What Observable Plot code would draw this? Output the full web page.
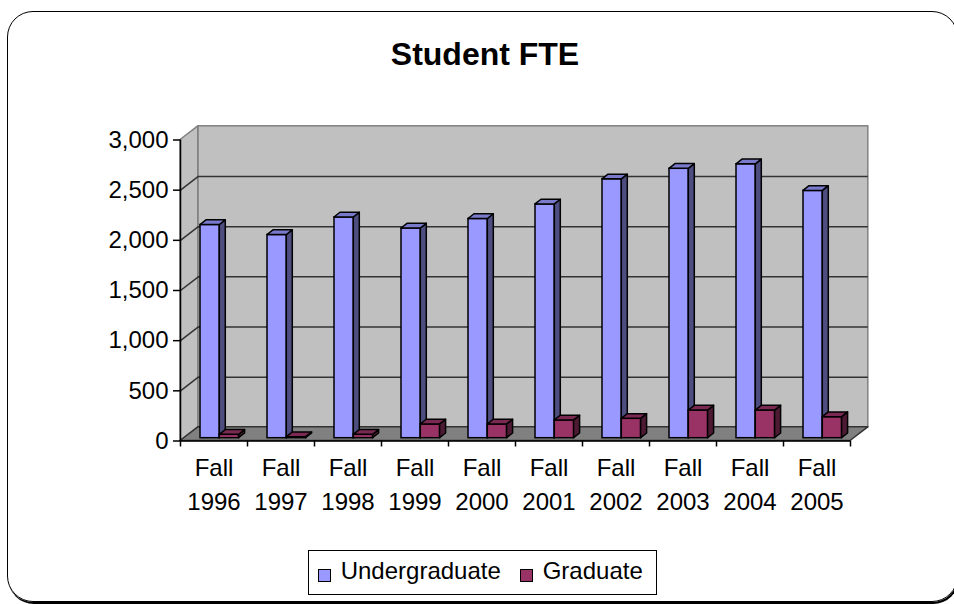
<!DOCTYPE html>
<html>
<head>
<meta charset="utf-8">
<script src="https://cdn.jsdelivr.net/npm/d3@7"></script>
<script src="https://cdn.jsdelivr.net/npm/@observablehq/plot@0.6"></script>
<style>
  html, body { margin: 0; padding: 0; background: #fff; }
  #wrap { position: relative; width: 954px; height: 604px; overflow: hidden; font-family: "Liberation Sans", Arial, sans-serif; }
  #chart { position: absolute; left: 0; top: 0; }
  #title { position: absolute; left: 0; top: 38px; width: 970px; text-align: center; font-weight: bold; font-size: 32px; line-height: 32px; color: #000; }
  #legend { position: absolute; left: 308px; top: 550px; width: 349px; height: 45px; box-sizing: border-box; border: 1px solid #000; font-size: 24px; line-height: 24px; }
  #legend .sw { position: absolute; width: 12.5px; height: 12.5px; box-sizing: border-box; border: 1.5px solid #000; top: 18.3px; }
  #legend .lb { position: absolute; top: 8px; white-space: nowrap; }
  #frame { position: absolute; left: 7px; top: 11px; width: 951px; height: 591px; box-sizing: border-box; border: 1.5px solid #000; border-radius: 26px; box-shadow: 1px 2px 0 #000; pointer-events: none; }
</style>
</head>
<body>
<div id="wrap">
  <div id="chart"></div>
  <div id="title">Student FTE</div>
  <div id="legend"></div>
  <div id="frame"></div>
</div>
<script>
// ---- data ----
const categories = ["Fall 1996", "Fall 1997", "Fall 1998", "Fall 1999", "Fall 2000",
                    "Fall 2001", "Fall 2002", "Fall 2003", "Fall 2004", "Fall 2005"];
const undergraduate = [2125, 2025, 2200, 2090, 2185, 2330, 2580, 2685, 2730, 2465];
const graduate = [34, 10, 34, 137, 137, 177, 193, 276, 276, 210];
const seriesNames = ["Undergraduate", "Graduate"];
const yTicks = [0, 500, 1000, 1500, 2000, 2500, 3000];

// ---- layout / style ----
const W = 954, H = 604;
const mL = 180, mR = 104, mT = 139.5, mB = 163.5;
const n = categories.length;
const yMax = 3000;
const kx = (W - mL - mR) / n;          // px per category
const ky = (H - mT - mB) / yMax;       // px per unit
const px = p => p / kx, py = p => p / ky;

const WX = px(17.8), WY = py(13.7);    // wall depth
const barW = 19.3;                      // px
const barStart = 20;                    // px from band start (front plane)
const BY = py(2.8);                     // bar front-plane lift
const DX = px(6), DY = py(4.7);         // bar depth

const colors = [
  {front: "#9999ff", side: "#4d4d80", top: "#7a7acc"},
  {front: "#993366", side: "#4d1a33", top: "#7a2952"}
];
const font = "'Liberation Sans', Arial, sans-serif";

// ---- derived geometry tables ----
const seriesValues = [undergraduate, graduate];
const barMarks = [];
seriesValues.forEach((vals, s) => {
  const fronts = [], sides = [], tops = [];
  vals.forEach((v, i) => {
    const x1 = i + px(barStart + s * barW), x2 = x1 + px(barW);
    const y0 = BY, y1 = v + BY;
    fronts.push({x1, x2, y0, y1});
    sides.push({id: i, x: x2, lo: y0, hi: y1});
    sides.push({id: i, x: x2 + DX, lo: y0 + DY, hi: y1 + DY});
    tops.push({id: i, y: y1, a: x1, b: x2});
    tops.push({id: i, y: y1 + DY, a: x1 + DX, b: x2 + DX});
  });
  const c = colors[s];
  barMarks.push(
    Plot.rect(fronts, {x1: "x1", x2: "x2", y1: "y0", y2: "y1", fill: c.front, stroke: "#000", strokeWidth: 1.5}),
    Plot.areaY(sides, {x: "x", y1: "lo", y2: "hi", z: "id", fill: c.side, stroke: "#000", strokeWidth: 1.5}),
    Plot.areaX(tops, {y: "y", x1: "a", x2: "b", z: "id", fill: c.top, stroke: "#000", strokeWidth: 1.5})
  );
});

const leftWall = [{x: 0, lo: 0, hi: yMax}, {x: WX, lo: WY, hi: yMax + WY}];
const floor = [{y: 0, a: 0, b: n}, {y: WY, a: WX, b: n + WX}];

const chart = Plot.plot({
  width: W, height: H,
  marginLeft: mL, marginRight: mR, marginTop: mT, marginBottom: mB,
  style: {fontFamily: font, fontSize: "24px", color: "#000", background: "transparent", overflow: "visible"},
  x: {type: "linear", domain: [0, n]},
  y: {type: "linear", domain: [0, yMax]},
  marks: [
    // back wall
    Plot.rect([0], {x1: WX, x2: n + WX, y1: WY, y2: yMax + WY, fill: "#c0c0c0", stroke: "#808080", strokeWidth: 1.5}),
    // left wall
    Plot.areaY(leftWall, {x: "x", y1: "lo", y2: "hi", fill: "#c0c0c0", stroke: "#808080", strokeWidth: 1.5}),
    // gridlines
    Plot.ruleY(yTicks.slice(0, -1), {y: d => d + WY, x1: WX, x2: n + WX, stroke: "#333", strokeWidth: 1.5}),
    Plot.link(yTicks.slice(1, -1), {x1: 0, y1: d => d, x2: WX, y2: d => d + WY, stroke: "#333", strokeWidth: 1.5}),
    // floor
    Plot.areaX(floor, {y: "y", x1: "a", x2: "b", fill: "#808080", stroke: "#333", strokeWidth: 1.5}),
    // bars
    ...barMarks,
    // axes
    Plot.ruleX([0], {y1: 0, y2: yMax, stroke: "#000", strokeWidth: 1.5}),
    Plot.ruleY([0], {x1: 0, x2: n, stroke: "#000", strokeWidth: 1.5}),
    Plot.axisY({ticks: yTicks, tickFormat: d3.format(","), tickSize: 7, tickPadding: 5, fontSize: 24, strokeWidth: 1.5, label: null}),
    Plot.axisX({ticks: d3.range(n + 1), tickFormat: () => "", tickSize: 6, strokeWidth: 1.5, label: null}),
    Plot.text(categories, {x: (d, i) => i + 0.5, y: 0, text: d => d.replace(" ", "\n"), lineAnchor: "top", dy: 11, lineHeight: 1.417, fontSize: 24, fill: "#000"})
  ]
});
document.getElementById("chart").appendChild(chart);

// legend
const legend = document.getElementById("legend");
const legendPos = [{sw: 9.3, lb: 31.7}, {sw: 211, lb: 233.7}];
seriesNames.forEach((name, s) => {
  const sw = document.createElement("div");
  sw.className = "sw";
  sw.style.left = legendPos[s].sw + "px";
  sw.style.background = colors[s].front;
  legend.appendChild(sw);
  const lb = document.createElement("div");
  lb.className = "lb";
  lb.style.left = legendPos[s].lb + "px";
  lb.textContent = name;
  legend.appendChild(lb);
});
</script>
</body>
</html>
